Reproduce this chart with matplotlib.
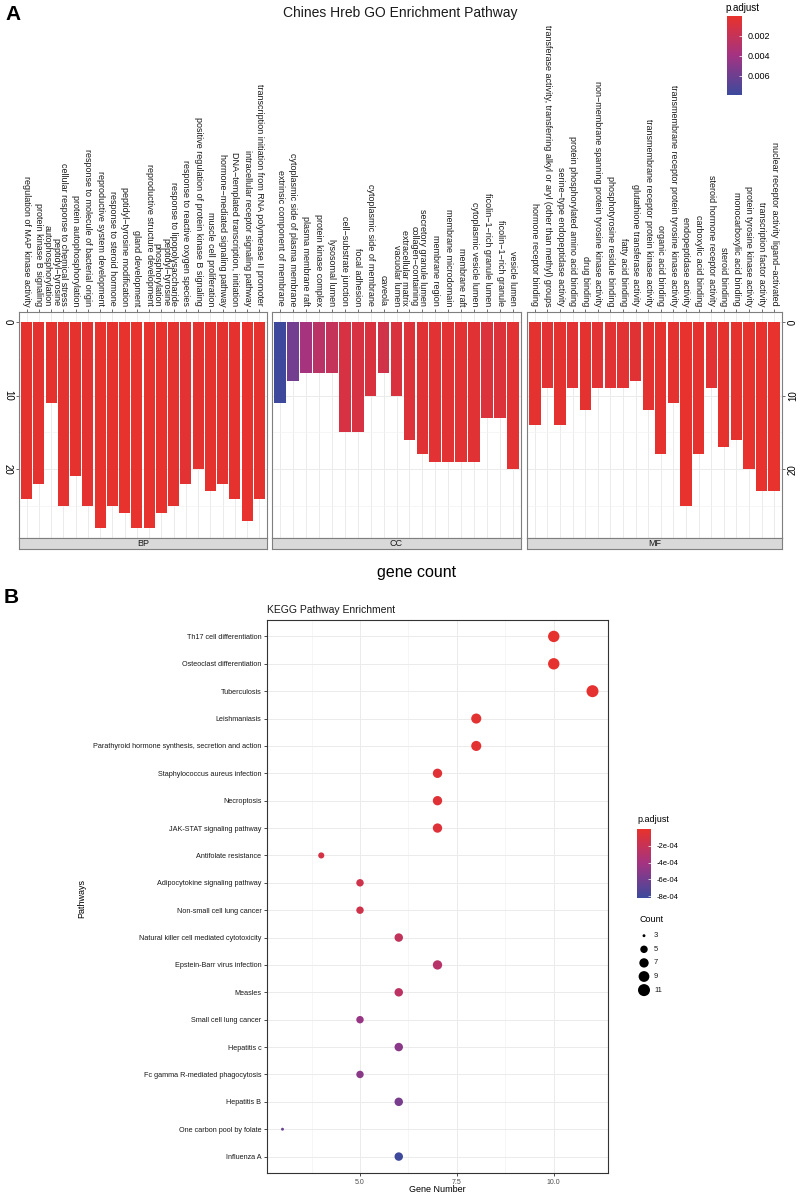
import numpy as np
import matplotlib
matplotlib.use("Agg")
import matplotlib.pyplot as plt
from matplotlib.colors import LinearSegmentedColormap, Normalize
from matplotlib.cm import ScalarMappable

plt.rcParams["font.family"] = ["Liberation Sans", "DejaVu Sans"]

# ---------------- data: GO enrichment (panel A) ----------------
BP_TERMS = [
    "regulation of MAP kinase activity",
    "protein kinase B signaling",
    "peptidyl−tyrosine\nautophosphorylation",
    "cellular response to chemical stress",
    "protein autophosphorylation",
    "response to molecule of bacterial origin",
    "reproductive system development",
    "response to steroid hormone",
    "peptidyl−tyrosine modification",
    "gland development",
    "reproductive structure development",
    "peptidyl−tyrosine\nphosphorylation",
    "response to lipopolysaccharide",
    "response to reactive oxygen species",
    "positive regulation of protein kinase B signaling",
    "muscle cell proliferation",
    "hormone−mediated signaling pathway",
    "DNA−templated transcription, initiation",
    "intracellular receptor signaling pathway",
    "transcription initiation from RNA polymerase II promoter",
]
BP_COUNT = [24, 22, 11, 25, 21, 25, 28, 25, 26, 28, 28, 26, 25, 22, 20, 23, 22, 24, 27, 24]
BP_PADJ = [0.0002, 0.0003, 0.0002, 0.0003, 0.0002, 0.0003, 0.0001, 0.0002, 0.0001, 0.0001,
           0.0001, 0.0001, 0.0003, 0.0004, 0.0003, 0.0002, 0.0003, 0.0002, 0.0001, 0.0002]

CC_TERMS = [
    "extrinsic component of membrane",
    "cytoplasmic side of plasma membrane",
    "plasma membrane raft",
    "protein kinase complex",
    "lysosomal lumen",
    "cell−substrate junction",
    "focal adhesion",
    "cytoplasmic side of membrane",
    "caveola",
    "vacuolar lumen",
    "collagen−containing\nextracellular matrix",
    "secretory granule lumen",
    "membrane region",
    "membrane microdomain",
    "membrane raft",
    "cytoplasmic vesicle lumen",
    "ficolin−1−rich granule lumen",
    "ficolin−1−rich granule",
    "vesicle lumen",
]
CC_COUNT = [11, 8, 7, 7, 7, 15, 15, 10, 7, 10, 16, 18, 19, 19, 19, 19, 13, 13, 20]
CC_PADJ = [0.0078, 0.0058, 0.0038, 0.0027, 0.0021, 0.0011, 0.0011, 0.0009, 0.0014, 0.0009,
           0.0007, 0.0005, 0.0004, 0.0004, 0.0004, 0.0005, 0.0008, 0.0008, 0.0004]

MF_TERMS = [
    "hormone receptor binding",
    "transferase activity, transferring alkyl or aryl (other than methyl) groups",
    "serine−type endopeptidase activity",
    "protein phosphorylated amino acid binding",
    "drug binding",
    "non−membrane spanning protein tyrosine kinase activity",
    "phosphotyrosine residue binding",
    "fatty acid binding",
    "glutathione transferase activity",
    "transmembrane receptor protein kinase activity",
    "organic acid binding",
    "transmembrane receptor protein tyrosine kinase activity",
    "endopeptidase activity",
    "carboxylic acid binding",
    "steroid hormone receptor activity",
    "steroid binding",
    "monocarboxylic acid binding",
    "protein tyrosine kinase activity",
    "transcription factor activity",
    "nuclear receptor activity ligand−activated",
]
MF_COUNT = [14, 9, 14, 9, 12, 9, 9, 9, 8, 12, 18, 11, 25, 18, 9, 17, 16, 20, 23, 23]
MF_PADJ = [0.0003, 0.0004, 0.0003, 0.0004, 0.0003, 0.0004, 0.0004, 0.0004, 0.0005, 0.0003,
           0.0002, 0.0003, 0.0001, 0.0002, 0.0004, 0.0002, 0.0002, 0.0001, 0.0001, 0.0001]

GO_TICKS = [0, 10, 20]
GO_CBAR_TICKS = [0.002, 0.004, 0.006]

# ---------------- data: KEGG dot plot (panel B) ----------------
KEGG_PATHWAYS = [
    "Th17 cell differentiation",
    "Osteoclast differentiation",
    "Tuberculosis",
    "Leishmaniasis",
    "Parathyroid hormone synthesis, secretion and action",
    "Staphylococcus aureus infection",
    "Necroptosis",
    "JAK-STAT signaling pathway",
    "Antifolate resistance",
    "Adipocytokine signaling pathway",
    "Non-small cell lung cancer",
    "Natural killer cell mediated cytotoxicity",
    "Epstein-Barr virus infection",
    "Measles",
    "Small cell lung cancer",
    "Hepatitis c",
    "Fc gamma R-mediated phagocytosis",
    "Hepatitis B",
    "One carbon pool by folate",
    "Influenza A",
]
KEGG_COUNT = [10, 10, 11, 8, 8, 7, 7, 7, 4, 5, 5, 6, 7, 6, 5, 6, 5, 6, 3, 6]
KEGG_PADJ = [-1e-5, -1e-5, -2e-5, -3e-5, -3e-5, -5e-5, -5e-5, -6e-5, -1.2e-4, -1.5e-4,
             -1.5e-4, -2.3e-4, -2.9e-4, -2.6e-4, -4.5e-4, -5.1e-4, -5.1e-4, -5.8e-4,
             -6.4e-4, -8.1e-4]
KEGG_XTICKS = [5.0, 7.5, 10.0]
KEGG_CBAR_TICKS = [-2e-4, -4e-4, -6e-4, -8e-4]
KEGG_CBAR_LABELS = ["-2e-04", "-4e-04", "-6e-04", "-8e-04"]
COUNT_BREAKS = [3, 5, 7, 9, 11]

# ---------------- style ----------------
W, H = 800, 1195
RED, MID, BLUE = "#E8322C", "#A33382", "#3C4A9D"
cmap_go = LinearSegmentedColormap.from_list("go", [RED, MID, BLUE])
cmap_kegg = LinearSegmentedColormap.from_list("kegg", [BLUE, MID, RED])
norm_go = Normalize(vmin=0.00005, vmax=0.0079)
norm_kegg = Normalize(vmin=-8.2e-4, vmax=0.0)
GRID = "#EBEBEB"
BORDER = "#7F7F7F"


def box(x0, y0, x1, y1):
    """pixel box (top-left origin) -> figure rect"""
    return [x0 / W, 1 - y1 / H, (x1 - x0) / W, (y1 - y0) / H]


def dot_size(c):
    d_px = 2.9 + 9.1 * np.sqrt((np.asarray(c, float) - 3) / 8.0)
    return (d_px * 72 / 100) ** 2


fig = plt.figure(figsize=(W / 100, H / 100), dpi=100)

# ================= panel A =================
fig.text(5 / W, 1 - 14 / H, "A", fontsize=15, fontweight="bold", va="center")
fig.text(400 / W, 1 - 13 / H, "Chines Hreb GO Enrichment Pathway", fontsize=10,
         ha="center", va="center", color="#1a1a1a")

panels = [
    ("BP", BP_TERMS, BP_COUNT, BP_PADJ, 19.3, 266.7),
    ("CC", CC_TERMS, CC_COUNT, CC_PADJ, 272.3, 520.7),
    ("MF", MF_TERMS, MF_COUNT, MF_PADJ, 527.3, 781.7),
]
for name, terms, counts, padj, x0, x1 in panels:
    ax = fig.add_axes(box(x0, 311.7, x1, 538.3))
    n = len(terms)
    xs = np.arange(n)
    ax.bar(xs, counts, width=0.9, color=cmap_go(norm_go(np.array(padj))), zorder=2)
    ax.set_xlim(-0.6, n - 0.4)
    ax.set_ylim(29.4, -1.4)
    ax.xaxis.tick_top()
    ax.set_xticks(xs)
    ax.set_xticklabels(terms, rotation=270, fontsize=6.45, color="#1a1a1a")
    for t in ax.get_xticklabels():
        t.set_multialignment("right")
        t.set_linespacing(1.0)
    ax.tick_params(axis="x", length=2.5, width=0.5, color="#333333", pad=1.5)
    ax.set_yticks(GO_TICKS)
    ax.set_yticks([5, 15, 25], minor=True)
    ax.grid(True, which="major", color=GRID, lw=0.7, zorder=0)
    ax.grid(True, which="minor", axis="y", color="#F3F3F3", lw=0.5, zorder=0)
    ax.set_axisbelow(True)
    for sp in ax.spines.values():
        sp.set_color(BORDER)
        sp.set_linewidth(0.8)
    ax.tick_params(axis="y", which="minor", length=0)
    if name == "BP":
        ax.tick_params(axis="y", labelsize=7, length=2.5, width=0.5, color="#333333", pad=2)
        for t in ax.get_yticklabels():
            t.set_rotation(270)
            t.set_va("center")
    elif name == "MF":
        ax.yaxis.tick_right()
        ax.tick_params(axis="y", labelsize=7, length=2.5, width=0.5, color="#333333", pad=2)
        for t in ax.get_yticklabels():
            t.set_rotation(90)
            t.set_va("center")
    else:
        ax.tick_params(axis="y", length=0, labelleft=False)

    sax = fig.add_axes(box(x0, 538.3, x1, 549.3))
    sax.set_facecolor("#D9D9D9")
    sax.set_xticks([])
    sax.set_yticks([])
    for sp in sax.spines.values():
        sp.set_color(BORDER)
        sp.set_linewidth(0.8)
    sax.text(0.5, 0.5, name, fontsize=6.5, ha="center", va="center",
             color="#1a1a1a", transform=sax.transAxes)

fig.text(417 / W, 1 - 572 / H, "gene count", fontsize=11.5, ha="center", va="center")

# colorbar A
cax = fig.add_axes(box(727, 16, 742, 95))
cb = fig.colorbar(ScalarMappable(norm=norm_go, cmap=cmap_go), cax=cax)
cax.invert_yaxis()
cb.set_ticks(GO_CBAR_TICKS)
cb.set_ticklabels(["%.3f" % v for v in GO_CBAR_TICKS])
cb.outline.set_visible(False)
cax.tick_params(labelsize=6.5, length=2, width=0.5, color="white", direction="in", pad=4)
fig.text(725 / W, 1 - 8 / H, "p.adjust", fontsize=7, va="center")

# ================= panel B =================
fig.text(4 / W, 1 - 598 / H, "B", fontsize=15, fontweight="bold", va="center")

bax = fig.add_axes(box(267, 620, 608, 1173))
n = len(KEGG_PATHWAYS)
ypos = np.arange(n)[::-1]
bax.scatter(KEGG_COUNT, ypos, s=dot_size(KEGG_COUNT), c=KEGG_PADJ, cmap=cmap_kegg,
            norm=norm_kegg, linewidths=0, zorder=3)
bax.set_xlim(2.6, 11.4)
bax.set_ylim(-0.6, n - 0.4)
bax.set_xticks(KEGG_XTICKS)
bax.set_xticklabels(["%.1f" % v for v in KEGG_XTICKS])
bax.set_xticks([3.75, 6.25, 8.75], minor=True)
bax.set_yticks(ypos)
bax.set_yticklabels(KEGG_PATHWAYS)
bax.tick_params(axis="x", labelsize=5, labelcolor="#4D4D4D", length=2, width=0.5, pad=2)
bax.tick_params(axis="x", which="minor", length=0)
bax.tick_params(axis="y", labelsize=5.2, labelcolor="#1a1a1a", length=2, width=0.5, pad=2)
bax.grid(True, which="major", color=GRID, lw=0.7, zorder=0)
bax.grid(True, which="minor", axis="x", color="#F3F3F3", lw=0.5, zorder=0)
bax.set_axisbelow(True)
for sp in bax.spines.values():
    sp.set_color("#333333")
    sp.set_linewidth(0.8)

fig.text(267 / W, 1 - 610 / H, "KEGG Pathway Enrichment", fontsize=7.5, va="center",
         color="#1a1a1a")
fig.text(437 / W, 1 - 1189 / H, "Gene Number", fontsize=6.5, ha="center", va="center")
fig.text(82 / W, 1 - 898 / H, "Pathways", fontsize=6.5, rotation=90, ha="center", va="center")

# colorbar B
cax2 = fig.add_axes(box(637, 829, 651, 898))
cb2 = fig.colorbar(ScalarMappable(norm=norm_kegg, cmap=cmap_kegg), cax=cax2)
cb2.set_ticks(KEGG_CBAR_TICKS)
cb2.set_ticklabels(KEGG_CBAR_LABELS)
cb2.outline.set_visible(False)
cax2.tick_params(labelsize=5.5, length=2, width=0.5, color="white", direction="in", pad=4)
fig.text(637 / W, 1 - 819 / H, "p.adjust", fontsize=6.5, va="center")

# size legend B
fig.text(639 / W, 1 - 920 / H, "Count", fontsize=6.5, va="center")
lax = fig.add_axes(box(636, 928, 690, 998))
lax.set_xlim(0, 54)
lax.set_ylim(70, 0)
lax.axis("off")
ly = 7.7 + 13.6 * np.arange(len(COUNT_BREAKS))
lax.scatter(np.full(len(COUNT_BREAKS), 8.0), ly, s=dot_size(COUNT_BREAKS),
            color="black", linewidths=0)
for yy, c in zip(ly, COUNT_BREAKS):
    lax.text(18, yy, str(c), fontsize=5.5, va="center", color="#1a1a1a")

fig.savefig("out.png", dpi=100)
